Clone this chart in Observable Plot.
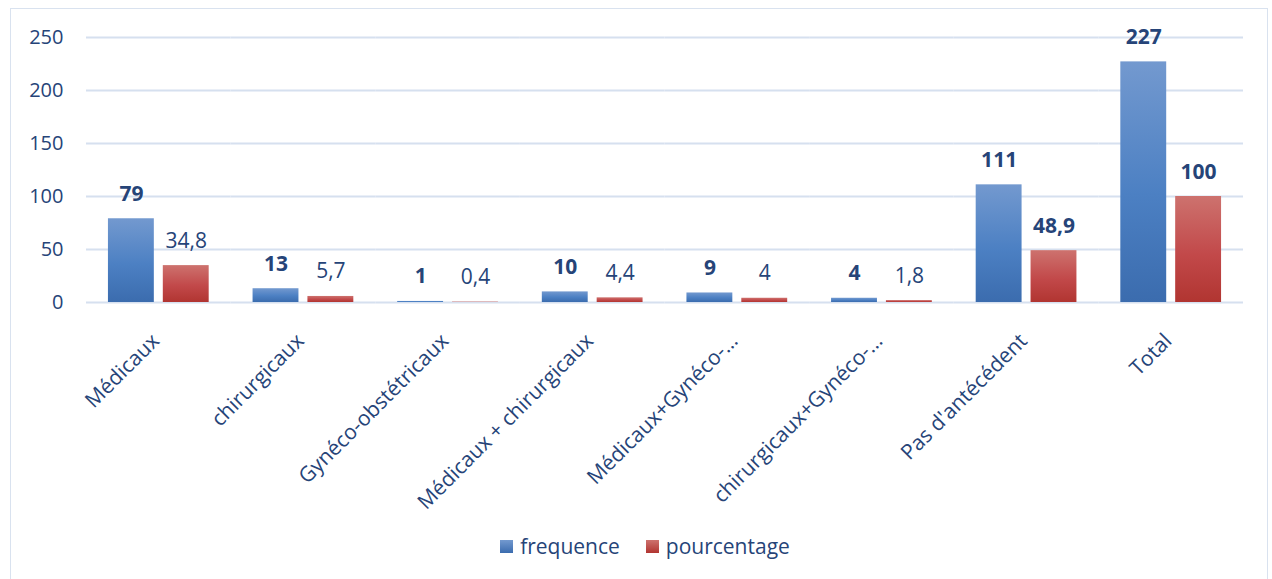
<!DOCTYPE html>
<html>
<head>
<meta charset="utf-8">
<script src="https://cdn.jsdelivr.net/npm/d3@7"></script>
<script src="https://cdn.jsdelivr.net/npm/@observablehq/plot@0.6"></script>
<style>
  body { margin: 0; background: #fff; font-family: "Open Sans", sans-serif; }
  #frame { position: absolute; left: 10px; top: 8px; width: 1256px; height: 620px; border: 1px solid #d9e2ef; box-sizing: content-box; }
  #legend { display: flex; justify-content: center; align-items: center; margin-top: 19px; padding-left: 12px; color: #264478; font-size: 21px; line-height: 26px; }
  .sw { display: inline-block; width: 13px; height: 13px; margin-right: 7px; }
  .item { display: inline-flex; align-items: center; margin: 0 13px; }
</style>
</head>
<body>
<div id="frame"><div id="chart"></div><div id="legend"></div></div>
<script>
const categories = ["Médicaux", "chirurgicaux", "Gynéco-obstétricaux", "Médicaux + chirurgicaux", "Médicaux+Gynéco-…", "chirurgicaux+Gynéco-…", "Pas d'antécédent", "Total"];
const series = ["frequence", "pourcentage"];
const frequence = [79, 13, 1, 10, 9, 4, 111, 227];
const pourcentage = [34.8, 5.7, 0.4, 4.4, 4, 1.8, 48.9, 100];
const boldPercent = ["Pas d'antécédent", "Total"];
const yTicks = [0, 50, 100, 150, 200, 250];

const rows = [];
categories.forEach((c, i) => {
  rows.push({cat: c, series: "frequence", value: frequence[i], bold: true});
  rows.push({cat: c, series: "pourcentage", value: pourcentage[i], bold: boldPercent.includes(c)});
});
const fmt = v => String(v).replace(".", ",");
const textColor = "#264478";

const chart = Plot.plot({
  width: 1256,
  height: 505,
  marginLeft: 75,
  marginRight: 24,
  marginTop: 28,
  marginBottom: 212,
  style: {fontFamily: "Open Sans, sans-serif", fontSize: "20px", color: textColor, background: "transparent"},
  fx: {domain: categories, padding: 0, round: false, axis: null},
  x: {domain: series, paddingInner: 0.1636, paddingOuter: 0.4, round: false, axis: null},
  y: {domain: [0, 250], axis: null},
  marks: [
    Plot.gridY(yTicks, {stroke: "#d6e0ef", strokeOpacity: 1, strokeWidth: 2}),
    Plot.axisY(yTicks, {tickSize: 0, tickPadding: 23, fontSize: 20, fill: textColor, label: null}),
    Plot.barY(rows.filter(d => d.series === "frequence"), {fx: "cat", x: "series", y: "value", fill: "url(#gBlue)"}),
    Plot.barY(rows.filter(d => d.series === "pourcentage"), {fx: "cat", x: "series", y: "value", fill: "url(#gRed)"}),
    Plot.text(rows.filter(d => d.bold), {fx: "cat", x: "series", y: "value", text: d => fmt(d.value), lineAnchor: "bottom", dy: -18, fontWeight: "bold", fill: textColor, fontSize: 21}),
    Plot.text(rows.filter(d => !d.bold), {fx: "cat", x: "series", y: "value", text: d => fmt(d.value), lineAnchor: "bottom", dy: -18, fill: textColor, fontSize: 21}),
    Plot.text(categories, {fx: d => d, text: d => d, frameAnchor: "bottom", rotate: -45, textAnchor: "end", lineAnchor: "middle", dx: -3, dy: 35, fill: textColor, fontSize: 21})
  ]
});

const ns = "http://www.w3.org/2000/svg";
const defs = document.createElementNS(ns, "defs");
[["gBlue", "#7399cf", "#4c80c3", "#3b6cae"], ["gRed", "#cd726e", "#c2494a", "#b13531"]].forEach(([id, top, mid, bottom]) => {
  const g = document.createElementNS(ns, "linearGradient");
  g.setAttribute("id", id);
  g.setAttribute("x1", "0"); g.setAttribute("y1", "0");
  g.setAttribute("x2", "0"); g.setAttribute("y2", "1");
  [["0%", top], ["55%", mid], ["100%", bottom]].forEach(([o, c]) => {
    const s = document.createElementNS(ns, "stop");
    s.setAttribute("offset", o); s.setAttribute("stop-color", c);
    g.appendChild(s);
  });
  defs.appendChild(g);
});
chart.insertBefore(defs, chart.firstChild);
document.getElementById("chart").appendChild(chart);

const legend = document.getElementById("legend");
[["frequence", "linear-gradient(#7399cf, #3b6cae)"], ["pourcentage", "linear-gradient(#cd726e, #b13531)"]].forEach(([name, bg]) => {
  const item = document.createElement("span");
  item.className = "item";
  const sw = document.createElement("span");
  sw.className = "sw"; sw.style.background = bg;
  item.appendChild(sw);
  item.appendChild(document.createTextNode(name));
  legend.appendChild(item);
});
</script>
</body>
</html>
